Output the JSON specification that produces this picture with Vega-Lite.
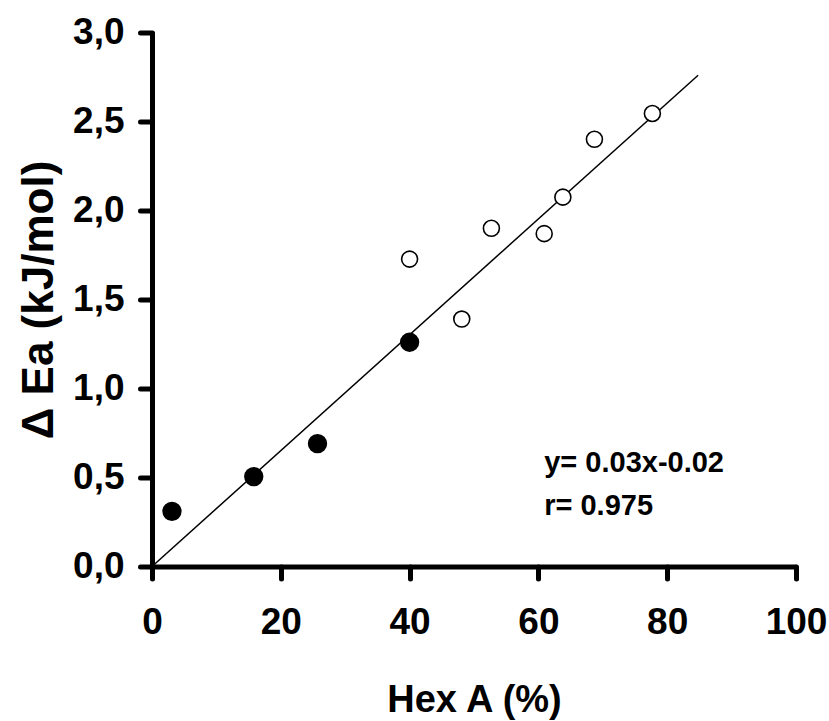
{
  "$schema": "https://vega.github.io/schema/vega-lite/v6.json",
  "width": 644,
  "height": 534,
  "autosize": {"type": "none"},
  "padding": {"left": 152, "top": 32.5, "right": 33, "bottom": 154.5},
  "background": "white",
  "config": {"view": {"stroke": null}, "font": "Liberation Sans"},
  "datasets": {
    "points": [
      {"hex": 3.1, "dEa": 0.31, "series": "filled"},
      {"hex": 15.8, "dEa": 0.505, "series": "filled"},
      {"hex": 25.7, "dEa": 0.69, "series": "filled"},
      {"hex": 40.0, "dEa": 1.26, "series": "filled"},
      {"hex": 40.0, "dEa": 1.727, "series": "open"},
      {"hex": 48.1, "dEa": 1.39, "series": "open"},
      {"hex": 52.7, "dEa": 1.9, "series": "open"},
      {"hex": 60.9, "dEa": 1.87, "series": "open"},
      {"hex": 63.8, "dEa": 2.075, "series": "open"},
      {"hex": 68.7, "dEa": 2.4, "series": "open"},
      {"hex": 77.7, "dEa": 2.545, "series": "open"}
    ],
    "fit": [
      {"hex": 0, "dEa": 0},
      {"hex": 84.8, "dEa": 2.76}
    ],
    "notes": [
      {"hex": 60.9, "dEa": 0.533, "label": "y= 0.03x-0.02"},
      {"hex": 60.9, "dEa": 0.289, "label": "r= 0.975"}
    ]
  },
  "layer": [
    {
      "data": {"name": "fit"},
      "mark": {"type": "line", "color": "black", "strokeWidth": 1.5},
      "encoding": {
        "x": {
          "field": "hex", "type": "quantitative",
          "scale": {"domain": [0, 100], "nice": false},
          "axis": {
            "title": "Hex A (%)",
            "values": [0, 20, 40, 60, 80, 100],
            "grid": false,
            "domainColor": "black", "domainWidth": 5,
            "tickColor": "black", "tickWidth": 5, "tickSize": 12, "tickCap": "round",
            "labelFont": "Liberation Sans", "labelFontSize": 37, "labelFontWeight": "bold",
            "labelColor": "black", "labelPadding": 26, "labelFlush": false, "labelOverlap": false,
            "titleFont": "Liberation Sans", "titleFontSize": 38, "titleFontWeight": "bold",
            "titleColor": "black", "titleBaseline": "alphabetic", "titleY": 145
          }
        },
        "y": {
          "field": "dEa", "type": "quantitative",
          "scale": {"domain": [0, 3], "nice": false},
          "axis": {
            "title": "Δ Ea (kJ/mol)",
            "values": [0, 0.5, 1, 1.5, 2, 2.5, 3],
            "labelExpr": "replace(format(datum.value, '.1f'), '.', ',')",
            "grid": false,
            "domainColor": "black", "domainWidth": 5,
            "tickColor": "black", "tickWidth": 5, "tickSize": 12, "tickCap": "round",
            "labelFont": "Liberation Sans", "labelFontSize": 37, "labelFontWeight": "bold",
            "labelColor": "black", "labelPadding": 16, "labelFlush": false, "labelOverlap": false,
            "titleFont": "Liberation Sans", "titleFontSize": 44, "titleFontWeight": "bold",
            "titleColor": "black", "titleBaseline": "alphabetic", "titleAlign": "center",
            "titleAngle": 270, "titleX": -100, "titleY": 267
          }
        }
      }
    },
    {
      "data": {"name": "points"},
      "mark": {"type": "point", "shape": "circle", "filled": true, "stroke": "black", "strokeWidth": 1.6, "opacity": 1},
      "encoding": {
        "x": {"field": "hex", "type": "quantitative"},
        "y": {"field": "dEa", "type": "quantitative"},
        "fill": {"field": "series", "type": "nominal", "scale": {"domain": ["filled", "open"], "range": ["black", "white"]}, "legend": null},
        "size": {"field": "series", "type": "nominal", "scale": {"domain": ["filled", "open"], "range": [315, 255]}, "legend": null}
      }
    },
    {
      "data": {"name": "notes"},
      "mark": {"type": "text", "align": "left", "baseline": "alphabetic", "fontSize": 29, "fontWeight": "bold", "font": "Liberation Sans", "color": "black"},
      "encoding": {
        "x": {"field": "hex", "type": "quantitative"},
        "y": {"field": "dEa", "type": "quantitative"},
        "text": {"field": "label", "type": "nominal"}
      }
    }
  ]
}
